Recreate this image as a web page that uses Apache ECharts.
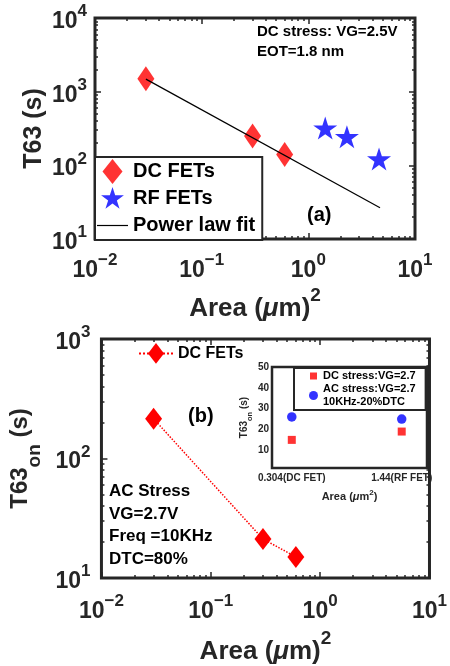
<!DOCTYPE html>
<html>
<head>
<meta charset="utf-8">
<script src="https://cdn.jsdelivr.net/npm/echarts@6/dist/echarts.min.js"></script>
<style>
  html, body { margin: 0; padding: 0; background: #fff; }
  #chart { width: 450px; height: 666px; }
</style>
</head>
<body>
<div id="chart"></div>
<script>
// ---- Panel (a): DC stress, T63 versus device area ----
const dcArea = [0.03, 0.3, 0.6];
const dcT63 = [1500, 250, 140];
const rfArea = [1.44, 2.3, 4.6];
const rfT63 = [320, 245, 122];
const fitArea = [0.03, 4.7];
const fitT63 = [1480, 26.5];

// ---- Panel (b): AC stress, T63_on versus device area ----
const acArea = [0.03, 0.3, 0.6];
const acT63on = [215, 21.2, 15];

// ---- Inset: DC vs AC stress at two device areas ----
const insetCategories = ['0.304(DC FET)', '1.44(RF FET)'];
const insetDC = [15, 19];
const insetAC = [26, 25];
const insetYTicks = [10, 20, 30, 40, 50];

// Decade exponents of the log axes
const xDecades = [-2, -1, 0, 1];
const yDecadesA = [1, 2, 3, 4];
const yDecadesB = [1, 2, 3];

const AXIS = '#262626';
const FONT = "'Liberation Sans', Arial, Helvetica, sans-serif";

function minorTicks(decades) {
  const t = [];
  for (let i = 0; i < decades.length - 1; i++) {
    for (let k = 2; k <= 9; k++) t.push(decades[i] + Math.log10(k));
  }
  return t;
}
const zip = (xs, ys) => xs.map((x, i) => [x, ys[i]]);

// "10" with a raised exponent
const tickRich = {
  b: { fontFamily: FONT, fontWeight: 'bold', fontSize: 23, color: AXIS, lineHeight: 30, verticalAlign: 'bottom' },
  s: { fontFamily: FONT, fontWeight: 'bold', fontSize: 17, color: AXIS, lineHeight: 17, verticalAlign: 'top' }
};
function powLabel(v) {
  const e = Math.round(Math.log10(v));
  return '{b|10}{s|' + (e < 0 ? '\u2212' + (-e) : String(e)) + '}';
}

const areaRich = {
  b: { fontFamily: FONT, fontWeight: 'bold', fontSize: 26, color: AXIS, lineHeight: 36, verticalAlign: 'bottom' },
  i: { fontFamily: FONT, fontWeight: 'bold', fontStyle: 'italic', fontSize: 26, color: AXIS, lineHeight: 36, verticalAlign: 'bottom' },
  s: { fontFamily: FONT, fontWeight: 'bold', fontSize: 19, color: AXIS, lineHeight: 19, verticalAlign: 'top' }
};
const AREA_NAME = '{b|Area (}{i|\u03bc}{b|m)}{s|2}';

const tickLine = { color: AXIS, width: 1.5 };

function logAxis(grid, pos, min, max, extra) {
  return Object.assign({
    type: 'log', logBase: 10, gridIndex: grid, position: pos, min: min, max: max,
    axisLine: { show: false, onZero: false },
    axisTick: { inside: true, length: 6, lineStyle: tickLine },
    splitLine: { show: false },
    axisLabel: { formatter: powLabel, rich: tickRich, margin: 10 }
  }, extra || {});
}
// Tick-only axis in exponent space (mirrored box ticks and minor ticks)
function tickAxis(grid, pos, min, max, values, len) {
  return {
    type: 'value', gridIndex: grid, position: pos, min: min, max: max,
    axisLine: { show: false, onZero: false },
    axisLabel: { show: false },
    splitLine: { show: false },
    axisTick: { inside: true, length: len, customValues: values, lineStyle: tickLine }
  };
}

const DIAMOND_A = 'path://M-1,-1 M1,1 M0,-1 L0.68,0 L0,1 L-0.68,0 Z';
const DIAMOND_B = 'path://M-1,-1 M1,1 M0,-1 L0.77,0 L0,1 L-0.77,0 Z';
const STAR = 'path://M0,-1 L0.2245,-0.309 L0.951,-0.309 L0.363,0.118 L0.588,0.809 L0,0.382 L-0.588,0.809 L-0.363,0.118 L-0.951,-0.309 L-0.2245,-0.309 Z';
const ICON_DIAMOND = 'path://M0,0 M31,25 M15.5,0 L25.5,12.5 L15.5,25 L5.5,12.5 Z';
const ICON_STAR = 'path://M0,0 M31,25 M15.5,1 L18.19,9.29 L26.91,9.29 L19.86,14.42 L22.56,22.71 L15.5,17.58 L8.44,22.71 L11.14,14.42 L4.09,9.29 L12.81,9.29 Z';
const ICON_LINE = 'path://M0,0 M31,25 M0,11.9 L31,11.9 L31,13.1 L0,13.1 Z';
const ICON_SQUARE = 'path://M0,0 M9,9 M1,1 L8,1 L8,8 L1,8 Z';

const gridStyle = { show: true, borderColor: AXIS, borderWidth: 3, backgroundColor: '#fff' };

const option = {
  animation: false,
  backgroundColor: '#fff',
  grid: [
    Object.assign({ left: 95, top: 18, width: 320, height: 221 }, gridStyle),
    Object.assign({ left: 99, top: 339, width: 333, height: 239 }, gridStyle),
    Object.assign({ left: 272, top: 367, width: 155, height: 101 }, gridStyle, { borderWidth: 2.5, z: 5 })
  ],
  xAxis: [
    // panel (a)
    logAxis(0, 'bottom', 0.01, 10, {
      name: AREA_NAME, nameLocation: 'middle', nameGap: 47, nameTextStyle: { rich: areaRich },
      axisLabel: { formatter: powLabel, rich: tickRich, margin: 13 }
    }),
    tickAxis(0, 'bottom', -2, 1, minorTicks(xDecades), 3),
    tickAxis(0, 'top', -2, 1, xDecades, 6),
    tickAxis(0, 'top', -2, 1, minorTicks(xDecades), 3),
    // panel (b)
    logAxis(1, 'bottom', 0.01, 10, {
      name: AREA_NAME, nameLocation: 'middle', nameGap: 51, nameTextStyle: { rich: areaRich },
      axisLabel: { formatter: powLabel, rich: tickRich, margin: 15 }
    }),
    tickAxis(1, 'bottom', -2, 1, minorTicks(xDecades), 3),
    tickAxis(1, 'top', -2, 1, xDecades, 6),
    tickAxis(1, 'top', -2, 1, minorTicks(xDecades), 3),
    // inset
    {
      type: 'value', gridIndex: 2, position: 'bottom', min: 0.82, max: 2.23,
      axisLine: { show: false, onZero: false }, splitLine: { show: false },
      axisTick: { inside: true, length: 3, customValues: [1, 2], lineStyle: tickLine },
      axisLabel: {
        customValues: [1, 2], margin: 5,
        formatter: v => insetCategories[Math.round(v) - 1],
        fontFamily: FONT, fontWeight: 'bold', fontSize: 10, color: AXIS
      },
      name: '{b|Area (}{i|\u03bc}{b|m}{s|2}{b|)}', nameLocation: 'middle', nameGap: 20.5,
      nameTextStyle: { rich: {
        b: { fontFamily: FONT, fontWeight: 'bold', fontSize: 11, color: AXIS, lineHeight: 14, verticalAlign: 'bottom' },
        i: { fontFamily: FONT, fontWeight: 'bold', fontStyle: 'italic', fontSize: 11, color: AXIS, lineHeight: 14, verticalAlign: 'bottom' },
        s: { fontFamily: FONT, fontWeight: 'bold', fontSize: 8, color: AXIS, lineHeight: 8, verticalAlign: 'top' }
      } }
    },
    {
      type: 'value', gridIndex: 2, position: 'top', min: 0.82, max: 2.23,
      axisLine: { show: false, onZero: false }, splitLine: { show: false }, axisLabel: { show: false },
      axisTick: { inside: true, length: 3, customValues: [1, 2], lineStyle: tickLine }
    }
  ],
  yAxis: [
    // panel (a)
    logAxis(0, 'left', 10, 10000, {
      name: 'T63 (s)', nameLocation: 'middle', nameGap: 48, nameMoveOverlap: false,
      nameTextStyle: { fontFamily: FONT, fontWeight: 'bold', fontSize: 25, color: AXIS },
      axisLabel: { formatter: powLabel, rich: tickRich, margin: 8 }
    }),
    tickAxis(0, 'left', 1, 4, minorTicks(yDecadesA), 3),
    tickAxis(0, 'right', 1, 4, yDecadesA, 6),
    tickAxis(0, 'right', 1, 4, minorTicks(yDecadesA), 3),
    // panel (b)
    logAxis(1, 'left', 10, 1000, {
      name: '{b|T63}{sub|on}{b| (s)}', nameLocation: 'middle', nameGap: 54,
      nameTextStyle: { rich: {
        b: { fontFamily: FONT, fontWeight: 'bold', fontSize: 24, color: AXIS, lineHeight: 24, verticalAlign: 'top' },
        sub: { fontFamily: FONT, fontWeight: 'bold', fontSize: 19, color: AXIS, lineHeight: 36.5, verticalAlign: 'bottom' }
      } },
      axisLabel: { formatter: powLabel, rich: tickRich, margin: 11 }
    }),
    tickAxis(1, 'left', 1, 3, minorTicks(yDecadesB), 3),
    tickAxis(1, 'right', 1, 3, yDecadesB, 6),
    tickAxis(1, 'right', 1, 3, minorTicks(yDecadesB), 3),
    // inset
    {
      type: 'value', gridIndex: 2, position: 'left', min: 1.5, max: 50,
      axisLine: { show: false, onZero: false }, splitLine: { show: false },
      axisTick: { inside: true, length: 3, customValues: insetYTicks, lineStyle: tickLine },
      axisLabel: { customValues: insetYTicks, margin: 3, fontFamily: FONT, fontWeight: 'bold', fontSize: 10, color: AXIS },
      name: '{b|T63}{sub|on}{b| (s)}', nameLocation: 'middle', nameGap: 13.5,
      nameTextStyle: { rich: {
        b: { fontFamily: FONT, fontWeight: 'bold', fontSize: 10, color: AXIS, lineHeight: 10, verticalAlign: 'top' },
        sub: { fontFamily: FONT, fontWeight: 'bold', fontSize: 7.5, color: AXIS, lineHeight: 15, verticalAlign: 'bottom' }
      } }
    },
    {
      type: 'value', gridIndex: 2, position: 'right', min: 1.5, max: 50,
      axisLine: { show: false, onZero: false }, splitLine: { show: false }, axisLabel: { show: false },
      axisTick: { inside: true, length: 3, customValues: insetYTicks, lineStyle: tickLine }
    }
  ],
  legend: [
    {
      orient: 'vertical', left: 95, top: 157,
      padding: [2, 7, 2, 2], itemGap: 2, itemWidth: 31, itemHeight: 25,
      borderColor: AXIS, borderWidth: 2, backgroundColor: '#fff',
      itemStyle: { borderWidth: 0 },
      textStyle: { fontFamily: FONT, fontWeight: 'bold', fontSize: 20, color: '#000' },
      selectedMode: false,
      data: [
        { name: 'DC FETs', icon: ICON_DIAMOND },
        { name: 'RF FETs', icon: ICON_STAR },
        { name: 'Power law fit', icon: ICON_LINE }
      ]
    },
    {
      orient: 'vertical', left: 138, top: 343, padding: 0,
      itemWidth: 34, itemHeight: 26,
      itemStyle: { borderWidth: 0 },
      textStyle: { fontFamily: FONT, fontWeight: 'bold', fontSize: 16, color: '#000' },
      selectedMode: false,
      formatter: () => 'DC FETs',
      data: ['DC FETs, AC stress']
    },
    {
      orient: 'vertical', left: 294, top: 368,
      padding: [1.5, 10, 1.5, 15], itemGap: 0, itemWidth: 9, itemHeight: 9,
      borderColor: AXIS, borderWidth: 2, backgroundColor: '#fff',
      itemStyle: { borderWidth: 0 },
      textStyle: { fontFamily: FONT, fontWeight: 'bold', fontSize: 11, lineHeight: 13, color: '#000' },
      selectedMode: false, z: 6,
      data: [
        { name: 'DC stress:VG=2.7', icon: ICON_SQUARE },
        { name: 'AC stress:VG=2.7\n10KHz-20%DTC', icon: 'circle' }
      ]
    }
  ],
  series: [
    {
      type: 'scatter', name: 'DC FETs', xAxisIndex: 0, yAxisIndex: 0,
      data: zip(dcArea, dcT63), symbol: DIAMOND_A, symbolSize: 25,
      itemStyle: { color: '#ff0000' }, z: 2
    },
    {
      type: 'scatter', name: 'RF FETs', xAxisIndex: 0, yAxisIndex: 0,
      data: zip(rfArea, rfT63), symbol: STAR, symbolSize: [24, 23],
      itemStyle: { color: '#0000ff' }, z: 2
    },
    {
      type: 'line', name: 'Power law fit', xAxisIndex: 0, yAxisIndex: 0,
      data: zip(fitArea, fitT63), symbol: 'none',
      lineStyle: { color: '#000', width: 1.2 }, itemStyle: { color: '#000' }, z: 3
    },
    {
      type: 'line', name: 'DC FETs, AC stress', xAxisIndex: 4, yAxisIndex: 4,
      data: zip(acArea, acT63on), symbol: DIAMOND_B, symbolSize: 22, showSymbol: true,
      lineStyle: { color: '#ff0000', type: 'dotted', width: 1.5 },
      itemStyle: { color: '#ff0000' }
    },
    {
      type: 'scatter', name: 'DC stress:VG=2.7', xAxisIndex: 8, yAxisIndex: 8,
      data: insetDC.map((v, i) => [i + 1, v]), symbol: 'rect', symbolSize: 8,
      itemStyle: { color: '#ff0000' }, z: 6
    },
    {
      type: 'scatter', name: 'AC stress:VG=2.7\n10KHz-20%DTC', xAxisIndex: 8, yAxisIndex: 8,
      data: insetAC.map((v, i) => [i + 1, v]), symbol: 'circle', symbolSize: 9.5,
      itemStyle: { color: '#0000ff' }, z: 6
    }
  ],
  graphic: [
    { type: 'text', left: 257, top: 22, z: 10,
      style: { text: 'DC stress: VG=2.5V\nEOT=1.8 nm', font: 'bold 15px ' + FONT, lineHeight: 20, fill: '#000' } },
    { type: 'text', left: 307, top: 205, z: 10,
      style: { text: '(a)', font: 'bold 20px ' + FONT, fill: '#000' } },
    { type: 'text', left: 188, top: 406, z: 10,
      style: { text: '(b)', font: 'bold 20px ' + FONT, fill: '#000' } },
    { type: 'text', left: 109, top: 480, z: 10,
      style: { text: 'AC Stress\nVG=2.7V\nFreq =10KHz\nDTC=80%', font: 'bold 17px ' + FONT, lineHeight: 22.7, fill: '#000' } }
  ]
};

const chart = echarts.init(document.getElementById('chart'), null, { renderer: 'canvas' });
chart.setOption(option);
</script>
</body>
</html>
